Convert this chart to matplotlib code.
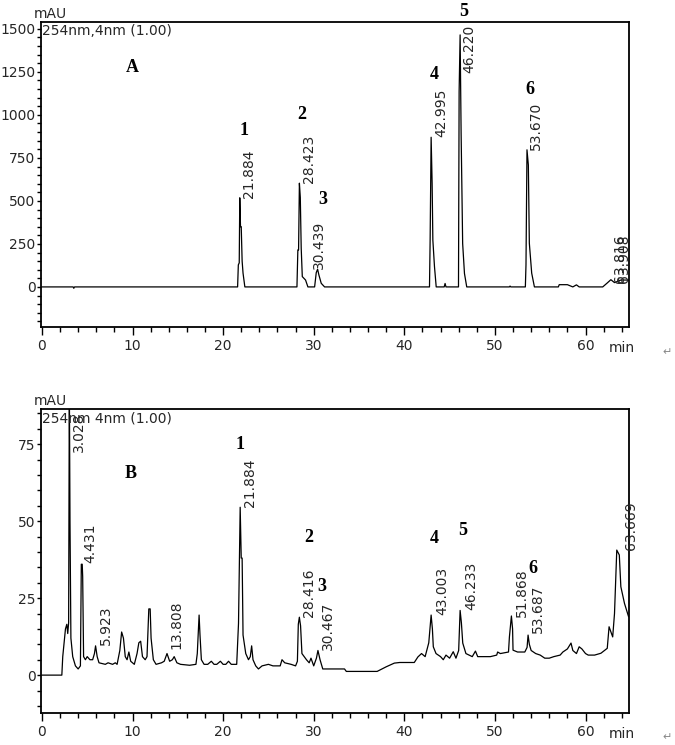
import matplotlib.pyplot as plt

# ---- chromatogram A (standard mix), mAU vs min ----
a_time = [0, 3.45, 3.52, 3.6, 21.6, 21.68, 21.78, 21.84, 21.92, 22.0, 22.1, 22.2, 22.4,
          28.15, 28.25, 28.33, 28.42, 28.52, 28.62, 28.74, 29.1, 29.36,
          30.1, 30.28, 30.43, 30.57, 30.83, 31.2,
          42.78, 42.85, 42.96, 43.07, 43.15, 43.33, 43.52, 44.4, 44.5, 44.6,
          45.98, 46.05, 46.16, 46.27, 46.44, 46.64, 46.89, 51.6, 51.67, 51.75,
          53.36, 53.43, 53.54, 53.69, 53.8, 54.06, 54.36,
          57.0, 57.1, 58.0, 58.6, 59.0, 59.3, 61.9, 62.4, 62.8, 63.2, 63.9, 64.8]
a_mau = [0, 0, -8, 0, 0, 128, 140, 518, 350, 350, 150, 80, 0,
         0, 215, 215, 603, 520, 225, 60, 40, 0,
         0, 83, 103, 70, 21, 0,
         0, 273, 870, 603, 273, 118, 0, 0, 20, 0,
         0, 1136, 1465, 893, 252, 78, 0, 0, 5, 0,
         0, 128, 797, 709, 254, 80, 0,
         0, 13, 13, 0, 12, 0, 0, 23, 42, 25, 40, 40]
a_rt = ["21.884", "28.423", "30.439", "42.995", "46.220", "53.670", "63.816", "63.908"]
a_rt_height = [518, 603, 103, 870, 1465, 797, 23, 23]

# ---- chromatogram B (sample), mAU vs min ----
b_time = [0, 2.2, 2.3, 2.6, 2.75, 2.85, 2.95, 3.028, 3.1, 3.2, 3.4, 3.7, 4.0, 4.25, 4.35,
          4.45, 4.5, 4.6, 4.8, 5.0, 5.3, 5.6, 5.8, 5.923, 6.1, 6.3, 7.0, 7.3, 7.8, 8.1,
          8.3, 8.6, 8.8, 9.0, 9.2, 9.4, 9.6, 9.8, 10.2, 10.5, 10.7, 10.9, 11.1, 11.4,
          11.6, 11.8, 11.95, 12.05, 12.3, 12.6, 13.2, 13.5, 13.808, 14.1, 14.4, 14.6,
          14.9, 15.3, 16.3, 17.0, 17.15, 17.35, 17.45, 17.6, 17.9, 18.3, 18.7, 19.0,
          19.3, 19.7, 20.0, 20.3, 20.6, 20.9, 21.5, 21.7, 21.884, 22.0, 22.1, 22.2,
          22.5, 22.8, 23.0, 23.15, 23.3, 23.6, 23.9, 24.3, 25.0, 25.5, 26.3, 26.5,
          26.8, 27.5, 28.0, 28.2, 28.3, 28.416, 28.55, 28.7, 29.2, 29.5, 29.7, 30.0,
          30.3, 30.467, 30.7, 31.0, 33.4, 33.6, 37.0, 38.0, 38.9, 39.5, 41.1, 41.5,
          41.9, 42.3, 42.7, 42.96, 43.1, 43.2, 43.5, 44.0, 44.3, 44.6, 45.0, 45.4,
          45.7, 46.0, 46.16, 46.3, 46.45, 46.8, 47.5, 47.85, 48.1, 49.5, 50.2, 50.3,
          50.6, 51.5, 51.6, 51.82, 51.95, 52.0, 52.5, 53.3, 53.55, 53.66, 53.8, 54.0,
          54.5, 55.0, 55.5, 56.0, 56.5, 57.2, 57.5, 58.0, 58.4, 58.6, 59.0, 59.3,
          59.6, 60.0, 60.3, 61.0, 61.7, 62.4, 62.6, 63.0, 63.2, 63.45, 63.73, 63.9,
          64.3, 64.75]
b_mau = [0, 0, 6, 15, 16.5, 13.5, 17, 95, 50, 12, 6, 3, 2, 3, 36,
         36, 32, 6, 5, 6, 5, 5, 7, 9.5, 6, 4, 3.5, 4, 3.5, 4,
         3.5, 8, 14, 12, 6, 5, 7.5, 4.5, 3.5, 7, 10.5, 11, 6, 5,
         6, 21.5, 21.5, 12, 5, 3.5, 4, 4.5, 7, 4.5, 5, 6,
         4, 3.5, 3.2, 3.5, 7, 19.5, 13, 5, 3.5, 3.5, 4.5, 3.5,
         3.5, 4.5, 3.5, 3.5, 4.5, 3.5, 3.5, 16.8, 54.5, 38, 38, 13,
         7, 5, 6, 9.5, 5, 3, 2, 3, 3.5, 3, 3, 5,
         4, 3.5, 3, 4.5, 16.5, 18.8, 16, 7, 5, 4, 5.5, 3,
         5.5, 8, 5, 2, 2, 1.2, 1.2, 2.7, 3.9, 4.1, 4.1, 5.9,
         7, 6, 10.5, 19.5, 15, 9.2, 7, 6, 5, 6.5, 5.5, 7.6,
         5.5, 8, 21, 17, 10.4, 7, 6, 7.8, 6, 6, 6.5, 7.5,
         7, 7.5, 12.4, 19.2, 15, 8.1, 7.5, 7.5, 9, 13, 10, 8,
         7, 6.5, 5.5, 5.5, 6, 6.5, 7.5, 8.5, 10.4, 8, 7, 9.2,
         8.5, 7, 6.5, 6.5, 7.1, 8.7, 15.7, 12.4, 20, 40.6, 39, 28.7,
         23.3, 19]
b_rt = ["3.028", "4.431", "5.923", "13.808", "21.884", "28.416", "30.467",
        "43.003", "46.233", "51.868", "53.687", "63.669"]
b_rt_height = [95, 36.4, 9.7, 8.4, 54.5, 18.8, 8.1, 19.5, 21, 19, 13.6, 40.6]

compound_ids = ["1", "2", "3", "4", "5", "6"]

# ---- layout ----
W, H = 675, 745
fig = plt.figure(figsize=(W / 100, H / 100), dpi=100)


def px_axes(left, top, right, bottom):
    return fig.add_axes([left / W, 1 - bottom / H, (right - left) / W, (bottom - top) / H])


axA = px_axes(41, 22, 629, 327)
axB = px_axes(41, 409, 629, 713)

txt = "#262626"
sans = "DejaVu Sans"
bold = dict(family="Liberation Serif", weight="bold", fontsize=13, color="black")


def style(ax, ylim, ymaj, ymin, header):
    ax.plot(ax_data[ax][0], ax_data[ax][1], color="black", lw=0.9)
    ax.set_xlim(-0.1, 64.8)
    ax.set_ylim(*ylim)
    ax.set_xticks(range(0, 61, 10))
    ax.set_xticks(range(0, 65, 2), minor=True)
    ax.set_yticks(ymaj)
    ax.set_yticks(ymin, minor=True)
    ax.tick_params(axis="x", which="major", length=6, width=1, pad=3,
                   labelsize=10, labelcolor=txt)
    ax.tick_params(axis="x", which="minor", length=3.5, width=1)
    ax.tick_params(axis="y", which="major", length=3, width=1, pad=1,
                   labelsize=10, labelcolor=txt)
    ax.tick_params(axis="y", which="minor", length=3, width=1)
    for s in ax.spines.values():
        s.set_linewidth(1.3)
    ax.text(64, -0.068, "min", transform=ax.get_xaxis_transform(), ha="center",
            va="center", fontsize=10, color=txt, family=sans)
    ax.text(0.015, 1.004, "mAU", transform=ax.transAxes, ha="center", va="bottom",
            fontsize=10, color=txt, family=sans)
    ax.text(0.002, 0.993, header, transform=ax.transAxes, ha="left", va="top",
            fontsize=10, color=txt, family=sans)


ax_data = {axA: (a_time, a_mau), axB: (b_time, b_mau)}
style(axA, (-233, 1540), range(0, 1501, 250), range(-200, 1540, 50), "254nm,4nm (1.00)")
style(axB, (-12.3, 86.4), range(0, 76, 25), range(-10, 86, 5), "254nm 4nm (1.00)")


def rt_labels(ax, labels, heights, dx, top_limit):
    ytop = ax.get_ylim()[1]
    for lab, h, d in zip(labels, heights, dx):
        x = float(lab) + d
        if h > top_limit:
            ax.text(x, ytop - (ytop - ax.get_ylim()[0]) * 0.01, lab, rotation=90,
                    ha="center", va="top", fontsize=10, color=txt, family=sans)
        else:
            ax.text(x, h, lab, rotation=90, ha="center", va="bottom",
                    fontsize=10, color=txt, family=sans)


rt_labels(axA, a_rt, a_rt_height, [0.95, 1.05, 0.1, 1.05, 0.95, 0.9, -0.05, 0.35], 1260)
rt_labels(axB, b_rt, b_rt_height, [1.05, 0.86, 1.1, 1.05, 1.1, 1.1, 1.1, 1.15, 1.15,
                                   1.15, 1.1, 1.35], 70)

# compound numbers and panel letters
a_id_xy = [(22.3, 907), (28.7, 1000), (31.0, 506), (43.3, 1233), (46.6, 1599), (53.9, 1145)]
b_id_xy = [(21.9, 75), (29.4, 44.6), (30.9, 28.9), (43.3, 44.5), (46.4, 47.1), (54.2, 34.6)]
for ax, xy in ((axA, a_id_xy), (axB, b_id_xy)):
    for cid, (x, y) in zip(compound_ids, xy):
        ax.text(x, y, cid, ha="center", va="center", **bold)
axA.text(9.93, 1273, "A", ha="center", va="center", **bold)
axB.text(9.8, 65.3, "B", ha="center", va="center", **bold)

for y in (352, 737):
    fig.text(667 / W, 1 - y / H, "\u21b5", color="#888888", fontsize=8,
             ha="center", va="center")

fig.savefig("out.png", dpi=100)
